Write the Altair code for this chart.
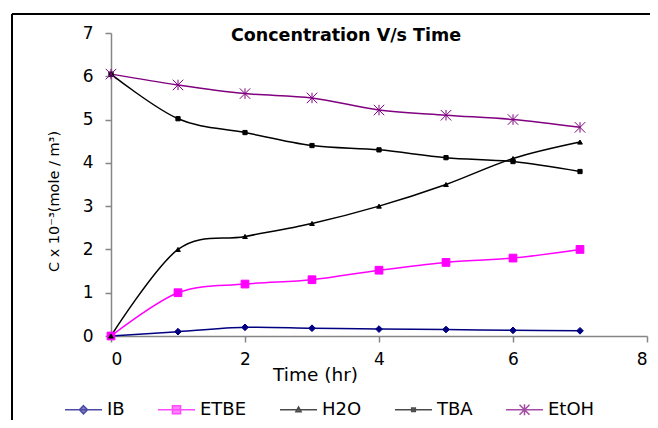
import altair as alt
import pandas as pd

times = [0, 1, 2, 3, 4, 5, 6, 7]
series = ["IB", "ETBE", "H2O", "TBA", "EtOH"]
ib = [0.0, 0.1, 0.2, 0.18, 0.16, 0.15, 0.13, 0.12]
etbe = [0.0, 1.0, 1.2, 1.3, 1.52, 1.7, 1.8, 2.0]
h2o = [0.0, 2.0, 2.3, 2.6, 3.0, 3.5, 4.1, 4.48]
tba = [6.05, 5.02, 4.7, 4.4, 4.3, 4.12, 4.03, 3.8]
etoh = [6.05, 5.8, 5.6, 5.5, 5.22, 5.1, 5.0, 4.82]

colors = ["#000080", "#FF00FF", "#000000", "#000000", "#800080"]
marker_shapes = ["diamond", "square", "triangle-up", "square",
                 "M-1,-1L1,1M-1,1L1,-1M0,-1L0,1"]
marker_sizes = [45, 60, 22, 18, 110]
legend_paths = [
    "M-1,0L1,0M0,-0.22L0.22,0L0,0.22L-0.22,0Z",
    "M-1,0L1,0M-0.22,-0.22L0.22,-0.22L0.22,0.22L-0.22,0.22Z",
    "M-1,0L1,0M0,-0.15L0.14,0.11L-0.14,0.11Z",
    "M-1,0L1,0M-0.1,-0.1L0.1,-0.1L0.1,0.1L-0.1,0.1Z",
    "M-1,0L1,0M-0.27,-0.27L0.27,0.27M-0.27,0.27L0.27,-0.27M0,-0.3L0,0.3",
]

values = {"IB": ib, "ETBE": etbe, "H2O": h2o, "TBA": tba, "EtOH": etoh}
rows = []
for s in series:
    for t, v in zip(times, values[s]):
        rows.append({"t": t, "c": v, "series": s})
df = pd.DataFrame(rows)

FONT = "DejaVu Sans"
AX = dict(domainColor="#868686", tickColor="#868686", tickSize=6, grid=False,
          labelFont=FONT, labelFontSize=17, labelColor="black",
          titleFont=FONT, titleColor="black", titleFontWeight="normal",
          domainWidth=1.5, tickWidth=1.5, format="d")

x_enc = alt.X("t:Q", scale=alt.Scale(domain=[0, 8], nice=False),
              axis=alt.Axis(values=[0, 2, 4, 6, 8], title="Time (hr)",
                            titleX=204, titleY=29, titleAlign="center",
                            titleFontSize=18.5, labelPadding=9, **AX))
y_enc = alt.Y("c:Q", scale=alt.Scale(domain=[0, 7], nice=False),
              axis=alt.Axis(values=[0, 1, 2, 3, 4, 5, 6, 7],
                            title="C x 10⁻³(mole / m³)",
                            titleX=-57, titleY=168, titleAngle=-90,
                            titleAlign="center", titleBaseline="middle",
                            titleFontSize=14.5, labelPadding=12, **AX))

base = alt.Chart(df)

layers = []
first = True
for s, col in zip(series, colors):
    enc = dict(x=x_enc, y=y_enc) if first else dict(x="t:Q", y="c:Q")
    first = False
    layers.append(
        base.transform_filter(alt.datum.series == s)
        .mark_line(interpolate="cardinal", strokeWidth=1.5, color=col)
        .encode(**enc)
    )

for s, col, shp, sz in zip(series, colors, marker_shapes, marker_sizes):
    layers.append(
        base.transform_filter(alt.datum.series == s).mark_point(
            shape=shp, size=sz, filled=True, fill=col, stroke=col,
            strokeWidth=1, opacity=1
        ).encode(x="t:Q", y="c:Q")
    )

legend_layer = base.transform_filter("datum.t < 0").mark_point(
    filled=True, strokeWidth=1.5).encode(
    x="t:Q", y="c:Q",
    fill=alt.Fill("series:N", scale=alt.Scale(domain=series, range=colors),
                  legend=alt.Legend(orient="none", legendX=-47, legendY=357,
                                    direction="horizontal", columns=5, title=None,
                                    symbolSize=1369, labelFontSize=18, labelFont=FONT,
                                    labelColor="black", columnPadding=30, labelOffset=4,
                                    symbolStrokeWidth=1.5, padding=0)),
    stroke=alt.Stroke("series:N", scale=alt.Scale(domain=series, range=colors)),
    shape=alt.Shape("series:N", scale=alt.Scale(domain=series, range=legend_paths)),
)

frame_top = alt.Chart(pd.DataFrame({"k": [0]})).mark_rule(color="black", strokeWidth=2).encode(
    x=alt.value(-99), x2=alt.value(560), y=alt.value(-19))
frame_left = alt.Chart(pd.DataFrame({"k": [0]})).mark_rule(color="black", strokeWidth=2).encode(
    x=alt.value(-99), y=alt.value(-19), y2=alt.value(420))

chart = alt.layer(frame_top, frame_left, *layers, legend_layer).properties(
    width=536, height=303,
    title=alt.TitleParams("Concentration V/s Time", font=FONT, fontSize=17.5,
                          fontWeight="bold", anchor="middle", dx=-33, offset=-31,
                          color="black"),
    padding={"left": 103, "top": 25, "right": 3, "bottom": 84},
    autosize=alt.AutoSizeParams(type="none"),
).configure_view(stroke=None)

chart.save("out.html", embed_options={"renderer": "svg", "actions": False})
